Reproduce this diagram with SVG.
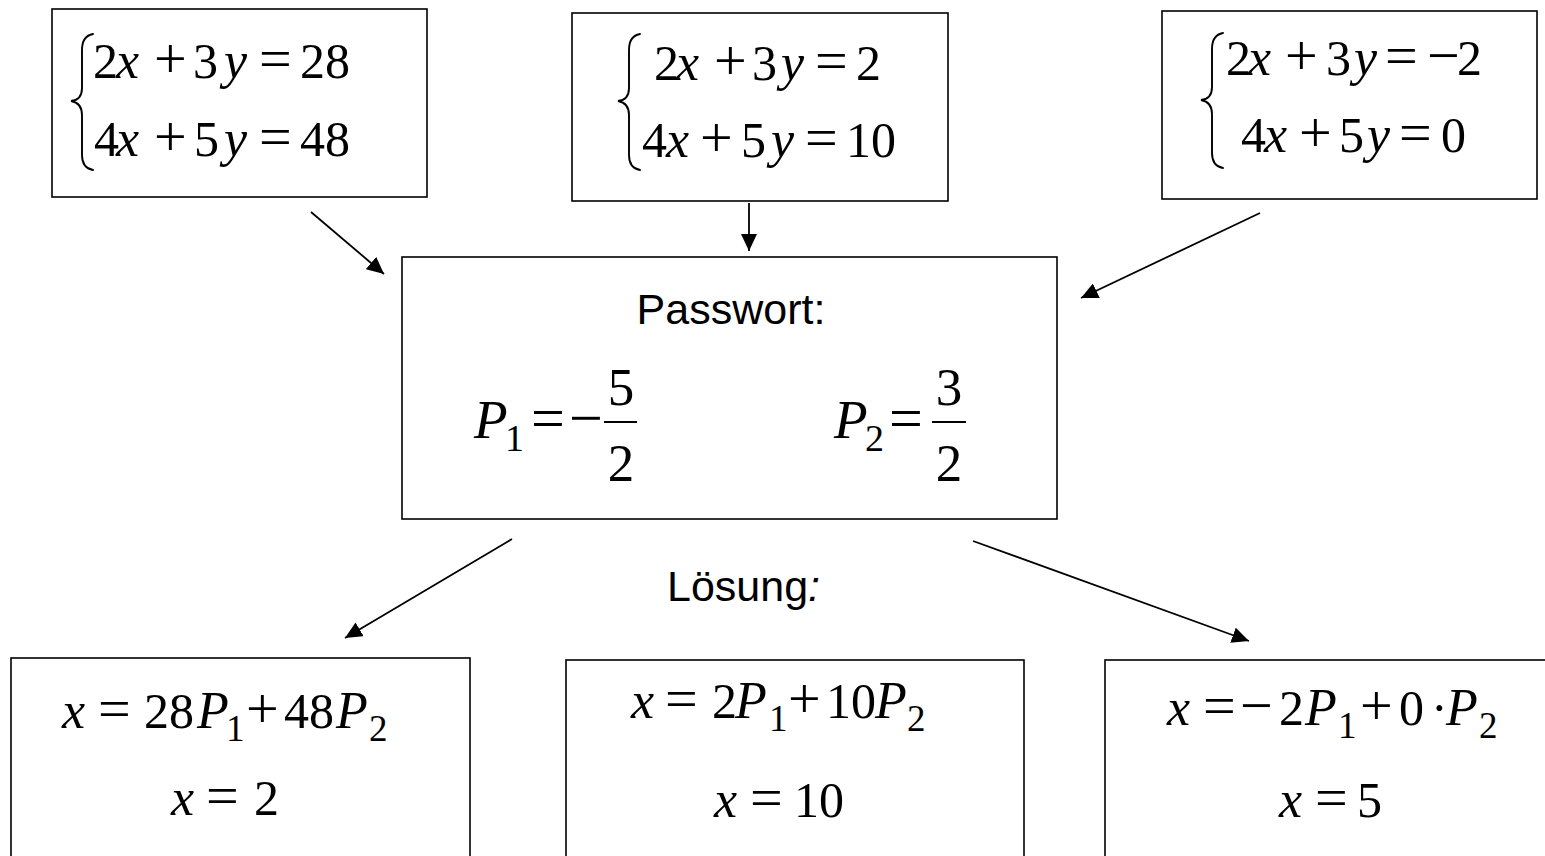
<svg xmlns="http://www.w3.org/2000/svg" width="1545" height="856" viewBox="0 0 1545 856">
  <style>
    .box { fill: #fff; stroke: #000; stroke-width: 1.6; }
    .brace { fill: none; stroke: #000; stroke-width: 1.9; stroke-linecap: round; }
    .m { font-family: "Liberation Serif", "Times New Roman", serif; font-size: 50px; fill: #000; }
    .c { font-family: "Liberation Serif", "Times New Roman", serif; font-size: 53px; fill: #000; }
    .i { font-style: italic; font-size: 52px; }
    .ci { font-style: italic; font-size: 55px; }
    .op { font-size: 58px; }
    .cop { font-size: 60px; }
    .s { font-size: 37px; }
    .cs { font-size: 38px; }
    .lbl { font-family: "Liberation Sans", Arial, sans-serif; font-size: 43px; fill: #000; }
    .arrow { stroke: #000; stroke-width: 1.8; fill: none; marker-end: url(#head); }
    .bar { stroke: #000; stroke-width: 2.2; }
  </style>
  <defs>
    <marker id="head" markerUnits="userSpaceOnUse" markerWidth="18" markerHeight="16" refX="17" refY="8" orient="auto">
      <path d="M0,0 L17,8 L0,16 z" fill="#000"/>
    </marker>
  </defs>
  <rect width="1545" height="856" fill="#fff"/>

  <!-- system 1 -->
  <g id="sys1">
    <rect class="box" x="52" y="9" width="375" height="188"/>
    <path class="brace" d="M93 34 Q82 36 82 50 L82 88 Q82 100 71 101 Q82 103 82 115 L82 155 Q82 168 93 170"/>
    <text class="m" y="78"><tspan x="93">2</tspan><tspan x="116" class="i">x</tspan><tspan x="154" class="op">+</tspan><tspan x="193">3</tspan><tspan x="224" class="i">y</tspan><tspan x="259" class="op">=</tspan><tspan x="300">28</tspan></text>
    <text class="m" y="156"><tspan x="94">4</tspan><tspan x="116" class="i">x</tspan><tspan x="154" class="op">+</tspan><tspan x="194">5</tspan><tspan x="224" class="i">y</tspan><tspan x="259" class="op">=</tspan><tspan x="300">48</tspan></text>
  </g>

  <!-- system 2 -->
  <g id="sys2">
    <rect class="box" x="572" y="13" width="376" height="188"/>
    <path class="brace" d="M640 34 Q629 36 629 50 L629 88 Q629 100 618 101 Q629 103 629 115 L629 155 Q629 168 640 170"/>
    <text class="m" y="80"><tspan x="654">2</tspan><tspan x="676" class="i">x</tspan><tspan x="714" class="op">+</tspan><tspan x="752">3</tspan><tspan x="781" class="i">y</tspan><tspan x="815" class="op">=</tspan><tspan x="856">2</tspan></text>
    <text class="m" y="157"><tspan x="642">4</tspan><tspan x="666" class="i">x</tspan><tspan x="700" class="op">+</tspan><tspan x="741">5</tspan><tspan x="771" class="i">y</tspan><tspan x="805" class="op">=</tspan><tspan x="846">10</tspan></text>
  </g>

  <!-- system 3 -->
  <g id="sys3">
    <rect class="box" x="1162" y="11" width="375" height="188"/>
    <path class="brace" d="M1223 33 Q1212 35 1212 49 L1212 87 Q1212 99 1201 100 Q1212 102 1212 114 L1212 153 Q1212 166 1223 168"/>
    <text class="m" y="75"><tspan x="1226">2</tspan><tspan x="1248" class="i">x</tspan><tspan x="1285" class="op">+</tspan><tspan x="1326">3</tspan><tspan x="1354" class="i">y</tspan><tspan x="1385" class="op">=</tspan><tspan x="1427" class="op">−</tspan><tspan x="1457">2</tspan></text>
    <text class="m" y="152"><tspan x="1241">4</tspan><tspan x="1264" class="i">x</tspan><tspan x="1299" class="op">+</tspan><tspan x="1339">5</tspan><tspan x="1367" class="i">y</tspan><tspan x="1399" class="op">=</tspan><tspan x="1441">0</tspan></text>
  </g>

  <!-- password -->
  <g id="password">
    <rect class="box" x="402" y="257" width="655" height="262"/>
    <text class="lbl" x="731" y="324" text-anchor="middle">Passwort:</text>
    <text class="c" y="438"><tspan x="474" class="ci">P</tspan><tspan x="505" y="451" class="cs">1</tspan><tspan x="531" y="438" class="cop">=</tspan><tspan x="569" class="cop">−</tspan></text>
    <line class="bar" x1="604" y1="422" x2="637" y2="422"/>
    <text class="c" x="621" y="405" text-anchor="middle">5</text>
    <text class="c" x="621" y="481" text-anchor="middle">2</text>
    <text class="c" y="438"><tspan x="834" class="ci">P</tspan><tspan x="865" y="451" class="cs">2</tspan><tspan x="889" y="438" class="cop">=</tspan></text>
    <line class="bar" x1="932" y1="422" x2="966" y2="422"/>
    <text class="c" x="949" y="405" text-anchor="middle">3</text>
    <text class="c" x="949" y="481" text-anchor="middle">2</text>
  </g>

  <text id="loesung" class="lbl" x="667" y="601">Lösung<tspan font-style="italic">:</tspan></text>

  <!-- result 1 -->
  <g id="res1">
    <rect class="box" x="11" y="658" width="459" height="220"/>
    <text class="m" y="728"><tspan x="62" class="i">x</tspan><tspan x="98" class="op">=</tspan><tspan x="144">28</tspan><tspan x="197" class="i">P</tspan><tspan x="226" y="741" class="s">1</tspan><tspan x="246" y="728" class="op">+</tspan><tspan x="284">48</tspan><tspan x="336" class="i">P</tspan><tspan x="369" y="741" class="s">2</tspan></text>
    <text class="m" y="815"><tspan x="171" class="i">x</tspan><tspan x="206" class="op">=</tspan><tspan x="254">2</tspan></text>
  </g>

  <!-- result 2 -->
  <g id="res2">
    <rect class="box" x="566" y="660" width="458" height="220"/>
    <text class="m" y="718"><tspan x="631" class="i">x</tspan><tspan x="665" class="op">=</tspan><tspan x="712">2</tspan><tspan x="735" class="i">P</tspan><tspan x="769" y="731" class="s">1</tspan><tspan x="788" y="718" class="op">+</tspan><tspan x="826">10</tspan><tspan x="875" class="i">P</tspan><tspan x="907" y="731" class="s">2</tspan></text>
    <text class="m" y="817"><tspan x="714" class="i">x</tspan><tspan x="750" class="op">=</tspan><tspan x="794">10</tspan></text>
  </g>

  <!-- result 3 -->
  <g id="res3">
    <rect class="box" x="1105" y="660" width="460" height="220"/>
    <text class="m" y="725"><tspan x="1167" class="i">x</tspan><tspan x="1203" class="op">=</tspan><tspan x="1240" class="op">−</tspan><tspan x="1279">2</tspan><tspan x="1305" class="i">P</tspan><tspan x="1338" y="738" class="s">1</tspan><tspan x="1360" y="725" class="op">+</tspan><tspan x="1399">0</tspan><tspan x="1431">·</tspan><tspan x="1446" class="i">P</tspan><tspan x="1479" y="738" class="s">2</tspan></text>
    <text class="m" y="817"><tspan x="1279" class="i">x</tspan><tspan x="1315" class="op">=</tspan><tspan x="1357">5</tspan></text>
  </g>

  <!-- connectors -->
  <g id="connectors">
    <line class="arrow" x1="311" y1="212" x2="384" y2="274"/>
    <line class="arrow" x1="749" y1="203" x2="749" y2="251"/>
    <line class="arrow" x1="1260" y1="213" x2="1081" y2="298"/>
    <line class="arrow" x1="512" y1="539" x2="345" y2="638"/>
    <line class="arrow" x1="973" y1="541" x2="1249" y2="641"/>
  </g>
</svg>
